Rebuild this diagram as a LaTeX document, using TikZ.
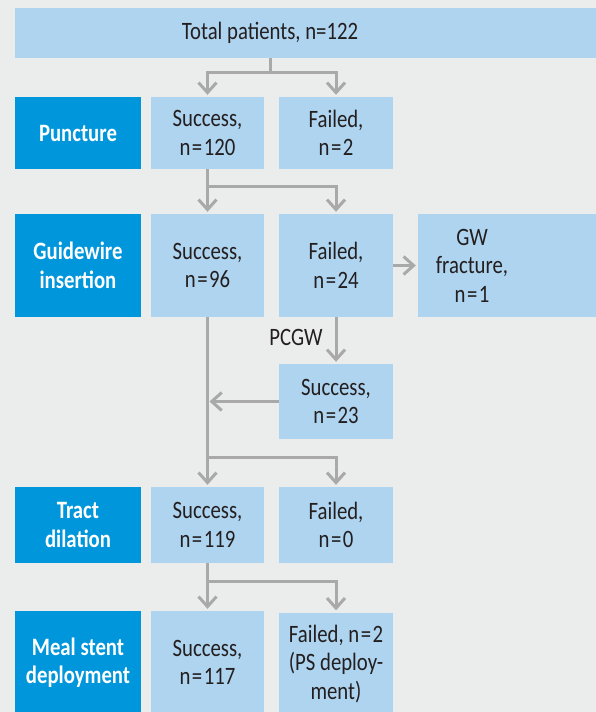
\documentclass[tikz,border=0pt]{standalone}
\usepackage{fontspec}
\setmainfont{Carlito}[FakeStretch=0.83]
\usetikzlibrary{arrows.meta}
\definecolor{bg}{HTML}{EBECEC}
\definecolor{lb}{HTML}{AED4EF}
\definecolor{db}{HTML}{0096DB}
\definecolor{ln}{HTML}{A9A9A9}
\definecolor{tx}{HTML}{231F20}
\newcommand{\txtfont}{\fontsize{25}{28.5}\selectfont}
\newcommand{\eqs}{\kern1.5pt=\kern1.5pt}
\begin{document}
\begin{tikzpicture}[x=1pt,y=-1pt,
  box/.style={rectangle, fill=lb, text=tx, align=center, inner sep=0pt, font=\txtfont},
  stage/.style={rectangle, fill=db, text=white, align=center, inner sep=0pt, font=\bfseries\txtfont},
  lbl/.style={text=tx, align=center, inner sep=0pt, font=\txtfont},
  conn/.style={draw=ln, line width=3pt},
  arr/.style={conn, -{Straight Barb[length=10pt,width=18pt]}, shorten >=2pt}]
\fill[bg] (0,0) rectangle (596,712);
\useasboundingbox (0,0) rectangle (596,712);
% top
\node[box, minimum width=581pt, minimum height=50pt,
  label={[lbl, xshift=-35.5pt, name=totaltext]center:Total patients, n=122}] (total) at (305.5,33) {};
% row 1
\node[stage, minimum width=126pt, minimum height=72pt] (p1) at (78,133) {Puncture};
\node[box, minimum width=113pt, minimum height=72pt] (s1) at (207.5,133) {Success,\\n\eqs 120};
\node[box, minimum width=114pt, minimum height=72pt] (f1) at (336,133) {Failed,\\n\eqs 2};
% row 2
\node[stage, minimum width=126pt, minimum height=103pt] (g2) at (78,265.5) {Guidewire\\insertion};
\node[box, minimum width=113pt, minimum height=103pt] (s2) at (207.5,265.5) {Success,\\n\eqs 96};
\node[box, minimum width=114pt, minimum height=103pt] (f2) at (336,265.5) {Failed,\\n\eqs 24};
\node[box, minimum width=178pt, minimum height=103pt,
  label={[lbl, xshift=-35pt, name=gwtext]center:GW\\fracture,\\n\eqs 1}] (gw) at (507,265.5) {};
\node[box, minimum width=114pt, minimum height=75pt] (ps) at (336,401.5) {Success,\\n\eqs 23};
% row 3
\node[stage, minimum width=126pt, minimum height=76pt] (t3) at (78,525) {Tract\\dilation};
\node[box, minimum width=113pt, minimum height=76pt] (s3) at (207.5,525) {Success,\\n\eqs 119};
\node[box, minimum width=114pt, minimum height=76pt] (f3) at (336,525) {Failed,\\n\eqs 0};
% row 4
\node[stage, minimum width=126pt, minimum height=103pt] (m4) at (78,662.5) {Meal stent\\deployment};
\node[box, minimum width=113pt, minimum height=103pt] (s4) at (207.5,662.5) {Success,\\n\eqs 117};
\node[box, minimum width=114pt, minimum height=103pt] (f4) at (336,664) {Failed, n\eqs 2\\(PS deploy-\\ment)};
% connectors
\coordinate (j0) at (270,72);
\draw[conn] (total.south -| j0) -- (j0);
\draw[arr] (j0) -| (s1.north);
\draw[arr] (j0) -| (f1.north);
\coordinate (j1) at (207.5,186);
\draw[conn] (s1.south) -- (j1);
\draw[arr] (j1) -- (s2.north);
\draw[arr] (j1) -| (f2.north);
\draw[arr] (f2.east) -- (gw.west);
\draw[arr] (f2.south) -- node[lbl, anchor=east, xshift=-12pt, yshift=3pt] (pcgw) {PCGW} (ps.north);
\draw[arr] (ps.west) -- (ps.west -| s2.south);
\coordinate (j2) at (207.5,457);
\draw[conn] (s2.south) -- (j2);
\draw[arr] (j2) -- (s3.north);
\draw[arr] (j2) -| (f3.north);
\coordinate (j3) at (207.5,581);
\draw[conn] (s3.south) -- (j3);
\draw[arr] (j3) -- (s4.north);
\draw[arr] (j3) -| (f4.north);
\end{tikzpicture}
\end{document}
